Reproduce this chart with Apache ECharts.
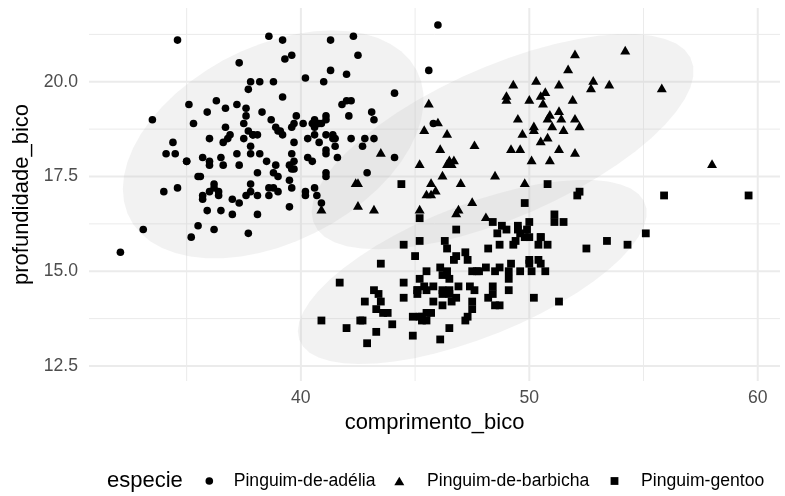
<!DOCTYPE html>
<html><head><meta charset="utf-8">
<script src="https://cdn.jsdelivr.net/npm/echarts@6/dist/echarts.min.js"></script>
<style>html,body{margin:0;padding:0;background:#fff}#c{width:785px;height:496px}</style>
</head><body><div id="c"></div>
<script>
const speciesNames = ['Pinguim-de-adélia','Pinguim-de-barbicha','Pinguim-gentoo'];
// [comprimento_bico, profundidade_bico]
const adelie = [[39.1,18.7],[39.5,17.4],[40.3,18.0],[36.7,19.3],[39.3,20.6],[38.9,17.8],[39.2,19.6],[34.1,18.1],[42.0,20.2],[37.8,17.1],[37.8,17.3],[41.1,17.6],[38.6,21.2],[34.6,21.1],[36.6,17.8],[38.7,19.0],[42.5,20.7],[34.4,18.4],[46.0,21.5],
[37.8,18.3],[37.7,18.7],[35.9,19.2],[38.2,18.1],[38.8,17.2],[35.3,18.9],[40.6,18.6],[40.5,17.9],[37.9,18.6],[40.5,18.9],
[39.5,16.7],[37.2,18.1],[39.5,17.8],[40.9,18.9],[36.4,17.0],[39.2,21.1],[38.8,20.0],[42.2,18.5],[37.6,19.3],[39.8,19.1],[36.5,18.0],[40.8,18.4],[36.0,18.5],[44.1,19.7],[37.0,16.9],[39.6,18.8],[41.1,19.0],[37.5,18.9],[36.0,17.9],[42.3,21.2],
[39.6,17.7],[40.1,18.9],[35.0,17.9],[42.0,19.5],[34.5,18.1],[41.4,18.6],[39.0,17.5],[40.6,18.8],[36.5,16.6],[37.6,19.1],[35.7,16.9],[41.3,21.1],[37.6,17.0],[41.1,18.2],[36.4,17.1],[41.6,18.0],[35.5,16.2],[41.1,19.1],
[35.9,16.6],[41.8,19.4],[33.5,19.0],[39.7,18.4],[39.6,17.2],[45.8,18.9],[35.5,17.5],[42.8,18.5],[40.9,16.8],[37.2,19.4],[36.2,16.1],[42.1,19.1],[34.6,17.2],[42.9,17.6],[36.7,18.8],[35.1,19.4],
[37.3,17.8],[41.3,20.3],[36.3,19.5],[36.9,18.6],[38.3,19.2],[38.9,18.8],[35.7,18.0],[41.1,18.1],[34.0,17.1],[39.6,18.1],[36.2,17.3],[40.8,18.9],[38.1,18.6],[40.3,18.5],[33.1,16.1],[43.2,18.5],
[35.0,17.9],[41.0,20.0],[37.7,16.0],[37.8,20.0],[37.9,18.6],[39.7,18.9],[38.6,17.2],[38.2,20.0],[38.1,17.0],[43.2,19.0],[38.1,16.5],[45.6,20.3],[39.7,17.7],[42.2,19.5],[39.6,20.7],[42.7,18.3],
[38.6,17.0],[37.3,20.5],[35.7,17.0],[41.1,18.6],[36.2,17.2],[37.7,19.8],[40.2,17.0],[41.4,18.5],[35.2,15.9],[40.6,19.0],[38.8,17.6],[41.5,18.3],[39.0,17.1],[44.1,18.0],[38.5,17.9],[43.1,19.2],
[36.8,18.5],[37.5,18.5],[38.1,17.6],[41.1,17.5],[35.6,17.5],[40.2,20.1],[37.0,16.5],[39.7,17.9],[40.2,17.1],[40.6,17.2],[32.1,15.5],[40.7,17.0],[37.3,16.8],[39.0,18.7],[39.2,18.6],[36.6,18.4],[36.0,17.8],[37.8,18.1],[36.0,17.1],[41.5,18.5]];
const barbicha = [[46.5,17.9],[50.0,19.5],[51.3,19.2],[45.4,18.7],[52.7,19.8],[45.2,17.8],[46.1,18.2],[51.3,18.2],[46.0,18.9],[51.3,19.9],[46.6,17.8],[51.7,20.3],[47.0,17.3],[52.0,18.1],[45.9,17.1],[50.5,19.6],[50.3,20.0],[58.0,17.8],[46.4,18.6],[49.2,18.2],
[42.4,17.3],[48.5,17.5],[43.2,16.6],[50.6,19.4],[46.7,17.9],[52.0,19.0],[50.5,18.4],[49.5,19.0],[46.4,17.8],[52.8,20.0],[40.9,16.6],[54.2,20.8],[42.5,16.7],[51.0,18.8],[49.7,18.6],[47.5,16.8],[47.6,18.3],[52.0,20.7],[46.9,16.6],[53.5,19.9],
[49.0,19.5],[46.2,17.5],[50.9,19.1],[45.5,17.0],[50.9,17.9],[50.8,18.5],[50.1,17.9],[49.0,19.6],[51.5,18.7],[49.8,17.3],[48.1,16.4],[51.4,19.0],[45.7,17.3],[50.7,19.7],[42.5,17.3],[52.2,18.8],[45.2,16.6],[49.3,19.9],[50.2,18.8],[45.6,19.4],
[51.9,19.5],[46.8,16.5],[45.7,17.0],[55.8,19.8],[43.5,18.1],[49.6,18.2],[50.8,19.0],[50.2,18.7]];
const gentoo = [[46.1,13.2],[50.0,16.3],[48.7,14.1],[50.0,15.2],[47.6,14.5],[46.5,13.5],[45.4,14.6],[46.7,15.3],[43.3,13.4],[46.8,15.4],[40.9,13.7],[49.0,16.1],[45.5,13.7],[48.4,14.6],[45.8,14.6],[49.3,15.7],[42.0,13.5],[49.2,15.2],[46.2,14.5],[48.7,15.1],
[50.2,14.3],[45.1,14.5],[46.5,14.5],[46.3,15.8],[42.9,13.1],[46.1,15.1],[44.5,14.3],[47.8,15.0],[48.2,14.3],[50.0,15.3],[47.3,15.3],[42.8,14.2],[45.1,14.5],[59.6,17.0],[49.1,14.8],[48.4,16.3],[42.6,13.7],[44.4,17.3],[44.0,13.6],[48.7,15.7],
[42.7,13.7],[49.6,16.0],[45.3,13.7],[49.6,15.0],[50.5,15.9],[43.6,13.9],[45.5,13.9],[50.5,15.9],[44.9,13.3],[45.2,15.8],[46.6,14.2],[48.5,14.1],[45.1,14.4],[50.1,15.0],[46.5,14.4],[45.0,15.4],[43.8,13.9],[45.5,15.0],[43.2,14.5],[50.4,15.3],
[45.3,13.8],[46.2,14.9],[45.7,13.9],[54.3,15.7],[45.8,14.2],[49.8,16.8],[46.2,14.4],[49.5,16.2],[43.5,14.2],[50.7,15.0],[47.7,15.0],[46.4,15.6],[48.2,15.6],[46.5,14.8],[46.4,15.0],[48.6,16.0],[47.5,14.2],[51.1,16.3],[45.2,13.8],[45.2,16.4],
[49.1,14.5],[52.5,15.6],[47.4,14.6],[50.0,15.9],[44.9,13.8],[50.8,17.3],[43.4,14.4],[51.3,14.2],[47.5,14.0],[52.1,17.0],[47.5,15.0],[52.2,17.1],[45.5,14.5],[49.5,16.1],[44.5,14.7],[50.8,15.7],[49.4,15.8],[46.9,14.6],[48.4,14.4],[51.1,16.5],
[48.5,15.0],[55.9,17.0],[47.2,15.5],[49.1,15.0],[47.3,13.8],[46.8,16.1],[41.7,14.7],[53.4,15.8],[43.3,14.0],[48.1,15.1],[50.5,15.2],[49.8,15.9],[43.5,15.2],[51.5,16.3],[46.2,14.1],[55.1,16.0],[44.5,15.7],[48.8,16.2],[47.2,13.7],[46.8,14.3],
[50.4,15.7],[45.2,14.8],[49.9,16.1]];
const xMajorTicks = [40, 50, 60];
const xMinorTicks = [35, 45, 55];
const yMajorTicks = [12.5, 15, 17.5, 20];
const yMinorTicks = [13.75, 16.25, 18.75, 21.25];

const groups = [adelie, barbicha, gentoo];

// normal-theory covariance (as stats::cov.wt), for stat_ellipse(type = "norm")
function covNorm(pts) {
  const n = pts.length;
  const m = [0, 0];
  pts.forEach(q => { m[0] += q[0] / n; m[1] += q[1] / n; });
  let a = 0, b = 0, c = 0;
  pts.forEach(q => { const dx = q[0] - m[0], dy = q[1] - m[1]; a += dx * dx; b += dx * dy; c += dy * dy; });
  return { cov: [a / (n - 1), b / (n - 1), c / (n - 1)], center: m };
}
function ellipseOf(pts) {
  const { cov, center } = covNorm(pts);
  const d = pts.length - 1, level = 0.95;
  const qf = (d / 2) * (Math.pow(1 - level, -2 / d) - 1); // F(2, d) quantile
  const radius = Math.sqrt(2 * qf);
  const r11 = Math.sqrt(cov[0]), r12 = cov[1] / r11, r22 = Math.sqrt(cov[2] - r12 * r12);
  const out = [];
  const seg = 51;
  for (let k = 0; k <= seg; k++) {
    const t = -Math.PI + 2 * Math.PI * k / seg;
    const u = Math.cos(t), v = Math.sin(t);
    out.push([center[0] + radius * u * r11, center[1] + radius * (u * r12 + v * r22)]);
  }
  return out;
}
const ellipses = groups.map(ellipseOf);

function rangeOf(idx) {
  let lo = Infinity, hi = -Infinity;
  groups.concat(ellipses).forEach(g => g.forEach(q => { lo = Math.min(lo, q[idx]); hi = Math.max(hi, q[idx]); }));
  const e = (hi - lo) * 0.05;
  return [lo - e, hi + e];
}
const xRange = rangeOf(0), yRange = rangeOf(1);

const FONT = "'Liberation Sans', Arial, Helvetica, sans-serif";
const gridData = []
  .concat(xMinorTicks.map(v => [v, 0, 1]))
  .concat(yMinorTicks.map(v => [v, 1, 1]))
  .concat(xMajorTicks.map(v => [v, 0, 2]))
  .concat(yMajorTicks.map(v => [v, 1, 2]));

const chart = echarts.init(document.getElementById('c'), null, { renderer: 'canvas' });
const symbols = ['circle', 'triangle', 'rect'];
const symSizes = [7.6, [10, 8.7], 7.8];
const symOffsets = [[0, 0], [0, -1.45], [0, 0]];

const legendCommon = { padding: 0, selectedMode: false, orient: 'horizontal', top: 472 };
const option = {
  animation: false,
  backgroundColor: '#ffffff',
  textStyle: { fontFamily: FONT },
  grid: { left: 89, right: 5, top: 8, bottom: 115, containLabel: false, outerBoundsMode: 'none' },
  xAxis: {
    type: 'value', min: xRange[0], max: xRange[1],
    axisLine: { show: false }, axisTick: { show: false }, splitLine: { show: false },
    axisLabel: { customValues: xMajorTicks, color: '#4d4d4d', fontSize: 17.6, margin: 8, fontFamily: FONT },
    name: 'comprimento_bico', nameLocation: 'middle', nameGap: 27,
    nameTextStyle: { fontSize: 22, color: '#000', fontFamily: FONT }
  },
  yAxis: {
    type: 'value', min: yRange[0], max: yRange[1],
    axisLine: { show: false }, axisTick: { show: false }, splitLine: { show: false },
    axisLabel: { customValues: yMajorTicks, color: '#4d4d4d', fontSize: 17.6, margin: 11, fontFamily: FONT,
      formatter: v => v.toFixed(1) },
    name: 'profundidade_bico', nameLocation: 'middle', nameGap: 49,
    nameTextStyle: { fontSize: 22, color: '#000', fontFamily: FONT }
  },
  legend: [
    { data: [{ name: speciesNames[0], icon: 'circle' }], left: 205.5, itemWidth: 7.6, itemHeight: 7.6, pad: 15.6 },
    { data: [{ name: speciesNames[1], icon: 'triangle' }], left: 394.3, itemWidth: 10, itemHeight: 8.7, pad: 17.7 },
    { data: [{ name: speciesNames[2], icon: 'rect' }], left: 610.6, itemWidth: 7.8, itemHeight: 7.8, pad: 17.6 }
  ].map(l => {
    const pad = l.pad; delete l.pad;
    return Object.assign(l, legendCommon, {
      textStyle: { fontSize: 17.6, color: '#000', fontFamily: FONT, padding: [0, 0, 0, pad] } });
  }),
  graphic: [{ type: 'text', x: 107, y: 480.5, style: { text: 'especie', fontSize: 22, fontFamily: FONT, fill: '#000', verticalAlign: 'middle' } }],
  series: [
    {
      type: 'custom', name: 'grade', z: 0, silent: true, data: gridData,
      renderItem(params, api) {
        const v = api.value(0), ax = api.value(1), w = api.value(2);
        const cs = params.coordSys;
        let shape;
        if (ax === 0) { const px = api.coord([v, yRange[0]])[0]; shape = { x1: px, y1: cs.y, x2: px, y2: cs.y + cs.height }; }
        else { const py = api.coord([xRange[0], v])[1]; shape = { x1: cs.x, y1: py, x2: cs.x + cs.width, y2: py }; }
        return { type: 'line', shape, style: { stroke: '#ebebeb', lineWidth: w }, silent: true };
      }
    },
    {
      type: 'custom', name: 'elipses', z: 1, silent: true, data: ellipses.map((e, i) => [i, 0]),
      renderItem(params, api) {
        const pts = ellipses[api.value(0)].map(q => api.coord(q));
        return { type: 'polygon', shape: { points: pts }, style: { fill: 'rgba(190,190,190,0.2)' }, silent: true };
      }
    }
  ].concat(groups.map((g, i) => ({
    type: 'scatter', name: speciesNames[i], data: g, z: 3,
    symbol: symbols[i], symbolSize: symSizes[i], symbolOffset: symOffsets[i],
    itemStyle: { color: '#000', opacity: 1 }, emphasis: { disabled: true }
  })))
};
chart.setOption(option);
</script>
</body></html>
